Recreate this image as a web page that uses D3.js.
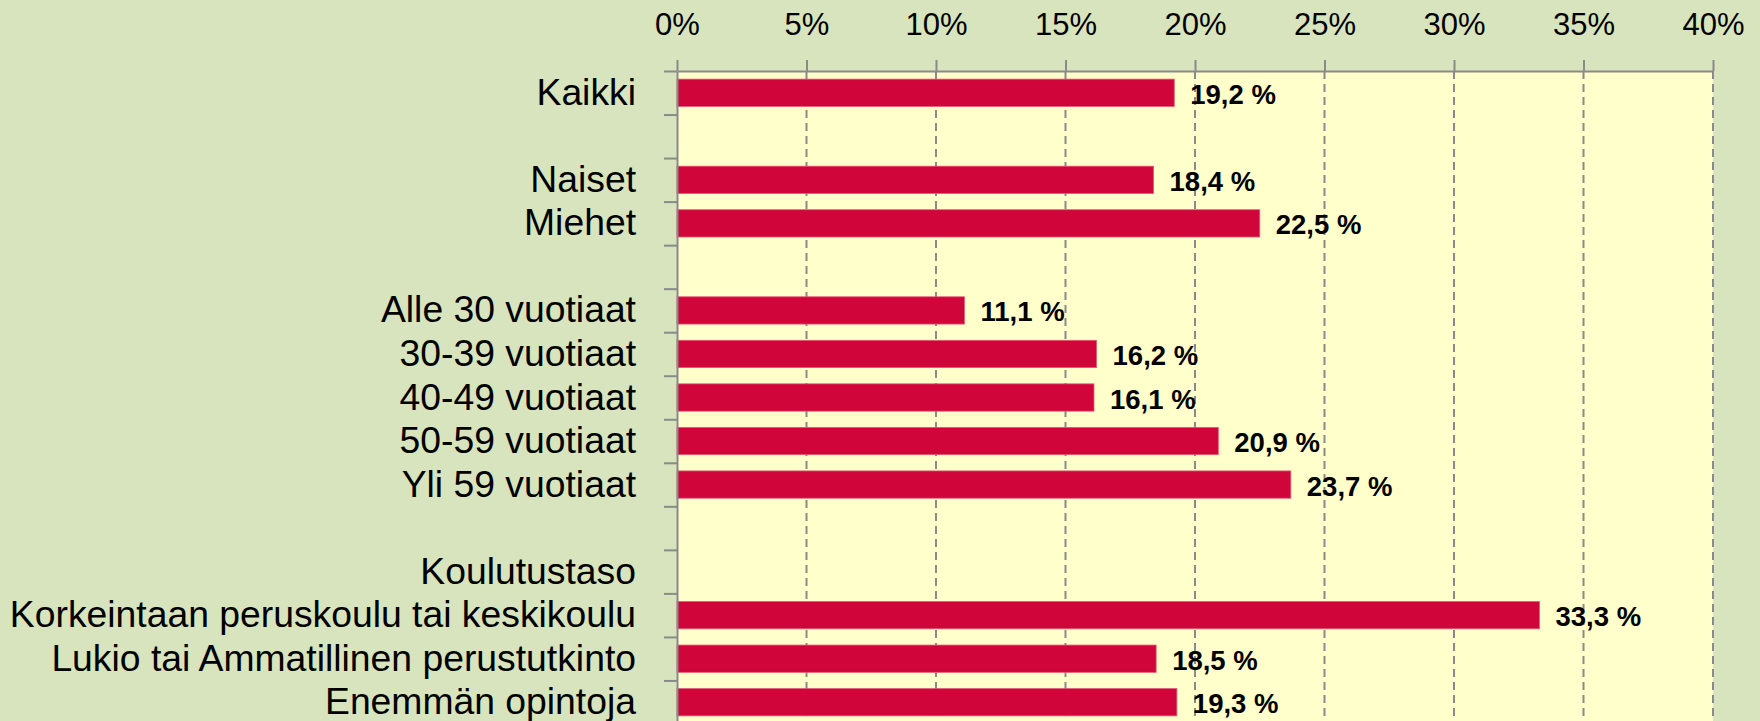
<!DOCTYPE html>
<meta charset="utf-8">
<style>
    body {
        margin: 0;
        background-color: #D7E4BD;
    }
    svg text {
        font-family: "Liberation Sans", Arial, sans-serif;
        fill: #000;
    }
</style>
<script src="https://d3js.org/d3.v7.min.js"></script>

<svg id="chart" width="1760" height="721"></svg>

<script>
    // Data
    var categories = [
        "Kaikki",
        "",
        "Naiset",
        "Miehet",
        "",
        "Alle 30 vuotiaat",
        "30-39 vuotiaat",
        "40-49 vuotiaat",
        "50-59 vuotiaat",
        "Yli 59 vuotiaat",
        "",
        "Koulutustaso",
        "Korkeintaan peruskoulu tai keskikoulu",
        "Lukio tai Ammatillinen perustutkinto",
        "Enemmän opintoja"
    ];
    var values = [19.2, null, 18.4, 22.5, null, 11.1, 16.2, 16.1, 20.9, 23.7, null, null, 33.3, 18.5, 19.3];
    var xTicks = [0, 5, 10, 15, 20, 25, 30, 35, 40];

    var svg = d3.select("#chart"),
        width = +svg.attr("width"),
        height = +svg.attr("height");

    var plot = { left: 677, right: 1713, top: 71, bottom: 724 };

    var x = d3.scaleLinear()
        .domain([0, 40])
        .range([plot.left, plot.right]);

    var y = d3.scaleBand()
        .domain(d3.range(categories.length))
        .range([plot.top, plot.bottom])
        .paddingInner(0.373)
        .paddingOuter(0.373 / 2);

    // boundaries between the rows, for the left ticks
    var yEdge = d3.scaleLinear()
        .domain([0, categories.length])
        .range([plot.top, plot.bottom]);

    // plot area
    svg.append("rect")
        .attr("x", plot.left)
        .attr("y", plot.top)
        .attr("width", plot.right - plot.left)
        .attr("height", plot.bottom - plot.top)
        .style("fill", "#FFFFCC");

    // dashed grid
    svg.append("g")
        .selectAll("line")
        .data(xTicks.filter(function(d) { return d > 0; }))
        .enter().append("line")
        .attr("x1", function(d) { return x(d); })
        .attr("x2", function(d) { return x(d); })
        .attr("y1", plot.top)
        .attr("y2", plot.bottom)
        .style("stroke", "#8a8a8a")
        .style("stroke-width", 2)
        .style("stroke-dasharray", "8,5");

    // top axis
    var xAxis = svg.append("g")
        .attr("transform", "translate(0," + plot.top + ")")
        .call(d3.axisTop(x)
            .tickValues(xTicks)
            .tickFormat(function(d) { return d + "%"; })
            .tickSize(11)
            .tickSizeOuter(0)
            .tickPadding(25));
    xAxis.select(".domain").style("stroke", "#8a8a8a").style("stroke-width", 2);
    xAxis.selectAll(".tick line").style("stroke", "#8a8a8a").style("stroke-width", 2);
    xAxis.selectAll(".tick text")
        .style("font-size", "31px")
        .style("font-family", "'Liberation Sans', Arial, sans-serif")
        .style("fill", "#000");

    // bars
    svg.append("g")
        .selectAll("rect")
        .data(values.map(function(v, i) { return { i: i, v: v }; })
            .filter(function(d) { return d.v !== null; }))
        .enter().append("rect")
        .attr("x", x(0))
        .attr("y", function(d) { return y(d.i); })
        .attr("width", function(d) { return x(d.v) - x(0); })
        .attr("height", y.bandwidth())
        .style("fill", "#D0063B")
        .style("stroke", "#E45A78")
        .style("stroke-width", 0.8);

    // left axis with ticks on row boundaries
    var yAxis = svg.append("g")
        .attr("transform", "translate(" + plot.left + ",0)")
        .call(d3.axisLeft(yEdge)
            .tickValues(d3.range(categories.length + 1))
            .tickFormat("")
            .tickSize(13)
            .tickSizeOuter(0));
    yAxis.select(".domain").style("stroke", "#8a8a8a").style("stroke-width", 2);
    yAxis.selectAll(".tick line").style("stroke", "#8a8a8a").style("stroke-width", 2);

    // category labels
    svg.append("g")
        .selectAll("text")
        .data(categories)
        .enter().append("text")
        .attr("x", 636)
        .attr("y", function(d, i) { return y(i) + y.bandwidth() / 2 + 12; })
        .attr("text-anchor", "end")
        .style("font-size", "37.3px")
        .text(function(d) { return d; });

    // value labels
    svg.append("g")
        .selectAll("text")
        .data(values.map(function(v, i) { return { i: i, v: v }; })
            .filter(function(d) { return d.v !== null; }))
        .enter().append("text")
        .attr("x", function(d) { return x(d.v) + 16; })
        .attr("y", function(d) { return y(d.i) + y.bandwidth() / 2 + 11; })
        .style("font-size", "27.5px")
        .style("font-weight", "bold")
        .text(function(d) { return d3.format(".1f")(d.v).replace(".", ",") + " %"; });
</script>
